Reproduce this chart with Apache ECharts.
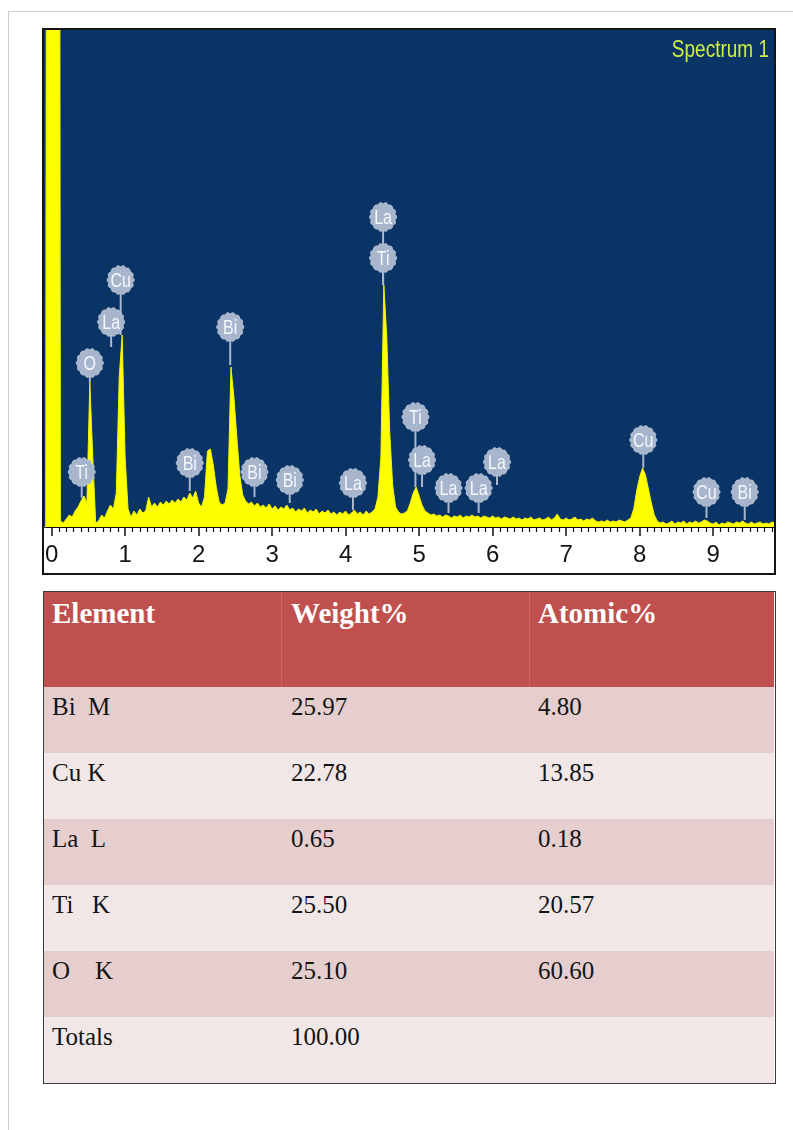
<!DOCTYPE html>
<html>
<head>
<meta charset="utf-8">
<script src="https://cdn.jsdelivr.net/npm/echarts@6/dist/echarts.min.js"></script>
<style>
  html, body { margin: 0; padding: 0; background: #ffffff; }
  #page { position: relative; width: 793px; height: 1130px; overflow: hidden; background: #ffffff; }
  .frame-top { position: absolute; left: 8px; top: 11px; width: 785px; height: 1px; background: #cccccc; z-index: 5; }
  .frame-left { position: absolute; left: 8px; top: 11px; width: 1px; height: 1119px; background: #cccccc; z-index: 5; }
  #chart { position: absolute; left: 0; top: 0; width: 793px; height: 585px; z-index: 1; }
  #table {
    position: absolute; left: 43px; top: 591px; width: 733px;
    border: 1.5px solid #3a3a3a; box-sizing: border-box;
    font-family: 'Liberation Serif', 'Times New Roman', serif;
  }
  .row { display: flex; }
  .cell { box-sizing: border-box; white-space: pre; }
  .head { height: 95px; background: #c0504d; color: #ffffff; font-weight: bold; font-size: 29px; line-height: 29px; padding-top: 7px; }
  .body { height: 66px; color: #141414; font-size: 25px; line-height: 25px; padding-top: 7px; }
  .band0 { background: #e6cecf; }
  .band1 { background: #f2e7e7; }
  .c0 { width: 237px; padding-left: 8px; }
  .c1 { width: 248px; padding-left: 9px; border-left: 1px solid rgba(255,255,255,0.12); }
  .c2 { width: 245px; padding-left: 8px; border-left: 1px solid rgba(255,255,255,0.12); }
</style>
</head>
<body>
<div id="page">
  <div id="chart"></div>
  <div class="frame-top"></div>
  <div class="frame-left"></div>
  <div id="table"></div>
</div>
<script>
// EDS spectrum: counts per channel, first channel at energyStart keV, channel width energyStep keV
const energyStart = -0.12;
const energyStep = 0.04;
const counts = [
  0, 0, 3000, 3000, 3000, 3000, 6, 4, 8, 12, 10, 16, 20, 26, 31, 24, 145, 70, 4, 6, 12, 9, 16, 22, 18,
  34, 150, 192, 70, 18, 10, 16, 12, 18, 14, 16, 30, 20, 24, 20, 25, 22, 26, 23, 27, 24, 28, 25, 30, 27,
  34, 29, 36, 24, 20, 30, 76, 78, 62, 40, 25, 22, 24, 38, 160, 130, 90, 52, 32, 26, 23, 25, 21, 24, 20,
  22, 19, 23, 18, 21, 17, 20, 18, 22, 17, 19, 15, 18, 16, 19, 14, 17, 15, 18, 13, 16, 14, 17, 13, 15,
  12, 15, 13, 16, 12, 14, 17, 13, 15, 12, 16, 13, 15, 18, 30, 70, 242, 190, 95, 42, 20, 15, 13, 14, 16,
  24, 34, 40, 31, 22, 16, 14, 12, 13, 11, 12, 10, 12, 11, 9, 11, 10, 12, 9, 11, 10, 12, 10, 11, 9,
  11, 10, 9, 11, 9, 10, 8, 10, 9, 8, 10, 8, 9, 7, 9, 8, 10, 7, 8, 9, 7, 8, 10, 7, 9,
  13, 8, 7, 9, 7, 8, 10, 7, 8, 6, 8, 7, 9, 6, 5, 6, 5, 7, 5, 6, 5, 7, 6, 5, 7,
  9, 18, 36, 50, 59, 52, 38, 24, 12, 6, 4, 5, 3, 4, 6, 3, 5, 4, 6, 3, 5, 4, 6, 4, 5,
  7, 6, 4, 3, 5, 2, 4, 3, 5, 4, 3, 5, 4, 6, 4, 3, 5, 3, 4, 5, 3, 4, 3, 5, 4
];

// Peak identification markers: element, line energy (keV), leader tip and label height (counts)
const peakNames  = ['Ti', 'O', 'La', 'Cu', 'Bi', 'Bi', 'Bi', 'Bi', 'La', 'Ti', 'La', 'Ti', 'La', 'La', 'La', 'La', 'Cu', 'Cu', 'Bi'];
const peakEnergy = [0.41, 0.52, 0.81, 0.94, 1.88, 2.43, 2.76, 3.24, 4.10, 4.51, 4.51, 4.95, 5.04, 5.40, 5.81, 6.06, 8.05, 8.91, 9.43];
const markerTip  = [29, 145, 180, 192, 36, 162, 30, 24, 17, 242, 242, 40, 40, 14, 14, 42, 59, 9, 7];
const markerTop  = [55, 164, 205, 247, 64, 200, 55, 47, 44, 269, 310, 110, 67, 39, 39, 65, 87, 35, 35];

// Energy axis (keV)
const energyMin = -0.117;
const energyMax = 9.842;
const majorTicks = [0, 1, 2, 3, 4, 5, 6, 7, 8, 9];
const minorTicks = [];
for (let t = 1; t <= 98; t++) {
  if (t % 10 !== 0) minorTicks.push(t / 10);
}
const countsMax = 498;
const spectrumTitle = 'Spectrum 1';

// Composition table
const tableHeader = ['Element', 'Weight%', 'Atomic%'];
const elementLines = ['Bi  M', 'Cu K', 'La  L', 'Ti   K', 'O    K'];
const weightPct = [25.97, 22.78, 0.65, 25.50, 25.10];
const atomicPct = [4.80, 13.85, 0.18, 20.57, 60.60];
const totalsLabel = 'Totals';
const weightTotal = 100.00;

const NARROW = "'Liberation Sans Narrow', 'Arial Narrow', 'Liberation Sans', sans-serif";

const spectrum = counts.map((c, i) => [+(energyStart + i * energyStep).toFixed(2), c]);
const markers = peakEnergy.map((e, i) => ({ value: [e, markerTip[i], markerTop[i]], name: peakNames[i] }));

function scallop(cx, cy, rx, ry) {
  const pts = [];
  const n = 112;
  for (let k = 0; k < n; k++) {
    const a = (k / n) * Math.PI * 2;
    const r = 0.9 + 0.1 * Math.abs(Math.cos(a * 7));
    pts.push([cx + rx * r * Math.cos(a), cy + ry * r * Math.sin(a)]);
  }
  return pts;
}

function renderMarker(params, api) {
  const i = params.dataIndex;
  const top = api.coord([api.value(0), api.value(2)]);
  const tip = api.coord([api.value(0), api.value(1)]);
  return {
    type: 'group',
    children: [
      {
        type: 'line', z2: 1,
        shape: { x1: top[0], y1: top[1], x2: tip[0], y2: tip[1] },
        style: { stroke: '#a9b8cd', lineWidth: 2 }
      },
      {
        type: 'polygon', z2: 10,
        shape: { points: scallop(top[0], top[1], 13.5, 14.5) },
        style: { fill: '#a7b6cc', stroke: '#b9c6d8', lineWidth: 1 }
      },
      {
        type: 'text', z2: 11, x: top[0], y: top[1] + 1, scaleY: 1.3,
        style: {
          text: peakNames[i], fill: '#f4f7fb', fontSize: 16, fontFamily: NARROW,
          align: 'center', verticalAlign: 'middle'
        }
      }
    ]
  };
}

const chart = echarts.init(document.getElementById('chart'), null, { renderer: 'canvas' });
chart.setOption({
  animation: false,
  backgroundColor: 'transparent',
  grid: {
    left: 43, top: 29, width: 732, height: 498,
    show: true, backgroundColor: '#0a3366', borderWidth: 0
  },
  xAxis: [
    {
      type: 'value', min: energyMin, max: energyMax, position: 'bottom',
      axisLine: { show: true, onZero: false, lineStyle: { color: '#111111', width: 2 } },
      axisTick: { show: true, customValues: majorTicks, length: 9, lineStyle: { color: '#111111', width: 1.5 } },
      axisLabel: {
        show: true, customValues: majorTicks, margin: 16,
        fontSize: 24, fontFamily: NARROW, color: '#141414'
      },
      splitLine: { show: false }
    },
    {
      type: 'value', min: energyMin, max: energyMax, position: 'bottom',
      axisLine: { show: false },
      axisTick: { show: true, customValues: minorTicks, length: 5, lineStyle: { color: '#111111', width: 1.2 } },
      axisLabel: { show: false },
      splitLine: { show: false }
    }
  ],
  yAxis: {
    type: 'value', min: 0, max: countsMax, show: false, splitLine: { show: false }
  },
  series: [
    {
      type: 'line', xAxisIndex: 0, data: spectrum, symbol: 'none', smooth: false, clip: true,
      lineStyle: { color: '#f2f200', width: 1 },
      areaStyle: { color: '#ffff00', opacity: 1 },
      z: 2
    },
    {
      type: 'custom', xAxisIndex: 0, data: markers, renderItem: renderMarker,
      encode: { x: 0, y: 1 }, z: 5
    }
  ],
  graphic: [
    {
      type: 'rect', z: 100,
      shape: { x: 43, y: 29, width: 732, height: 545 },
      style: { fill: 'none', stroke: '#141414', lineWidth: 2 }
    },
    {
      type: 'text', z: 100, x: 769, y: 50, scaleY: 1.25,
      style: {
        text: spectrumTitle, fill: '#cdee45', fontSize: 19, fontFamily: NARROW,
        align: 'right', verticalAlign: 'middle'
      }
    }
  ]
});

// Composition table
const table = document.getElementById('table');
function addRow(cells, cls) {
  const row = document.createElement('div');
  row.className = 'row';
  cells.forEach((txt, j) => {
    const c = document.createElement('div');
    c.className = 'cell c' + j + ' ' + cls;
    c.textContent = txt;
    row.appendChild(c);
  });
  table.appendChild(row);
}
addRow(tableHeader, 'head');
elementLines.forEach((el, i) => {
  addRow([el, weightPct[i].toFixed(2), atomicPct[i].toFixed(2)], 'body band' + (i % 2));
});
addRow([totalsLabel, weightTotal.toFixed(2), ''], 'body band' + (elementLines.length % 2));
</script>
</body>
</html>
